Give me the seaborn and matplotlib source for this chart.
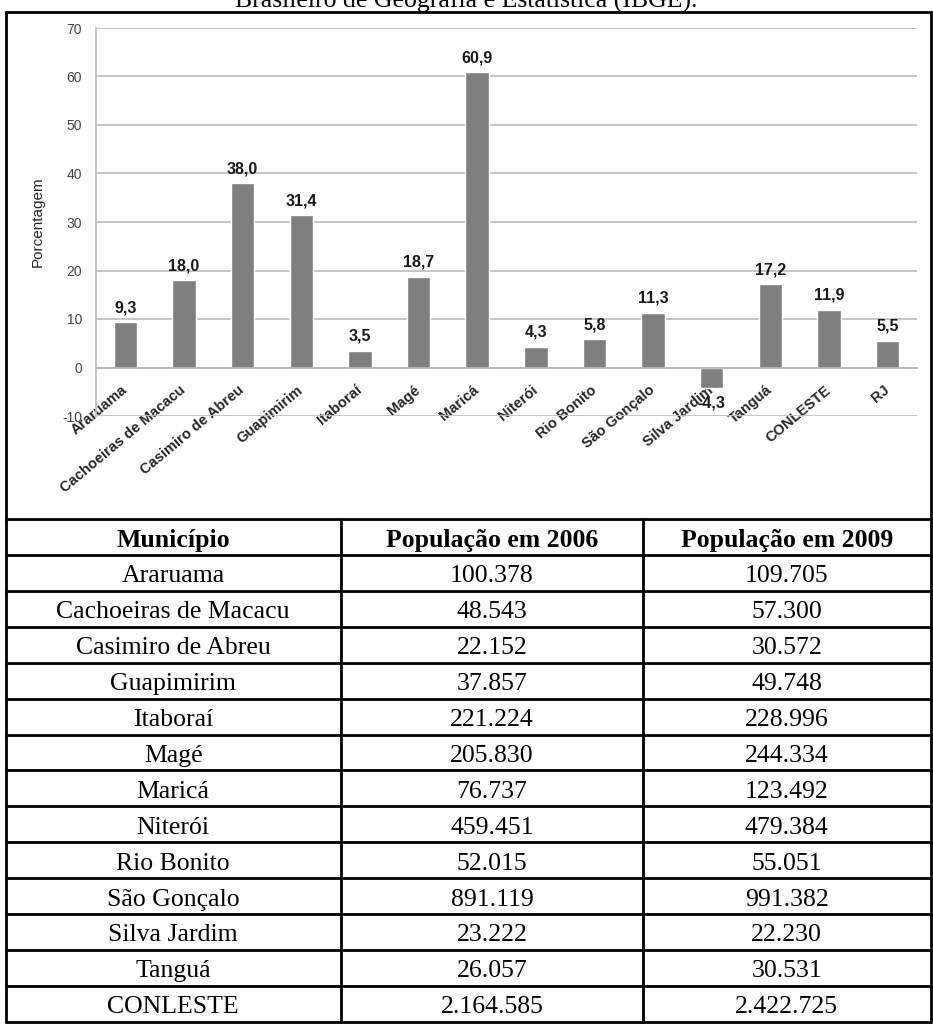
import matplotlib
matplotlib.use("Agg")
import matplotlib.pyplot as plt
import numpy as np
import pandas as pd
import seaborn as sns

# Population growth 2006-2009 (%) by municipality
categorias = ["Araruama", "Cachoeiras de Macacu", "Casimiro de Abreu", "Guapimirim",
              "Itaboraí", "Magé", "Maricá", "Niterói", "Rio Bonito", "São Gonçalo",
              "Silva Jardim", "Tanguá", "CONLESTE", "RJ"]
variacao = [9.3, 18.0, 38.0, 31.4, 3.5, 18.7, 60.9, 4.3, 5.8, 11.3, -4.3, 17.2, 11.9, 5.5]
y_ticks = [-10, 0, 10, 20, 30, 40, 50, 60, 70]

# Population table
cabecalho = ["Município", "População em 2006", "População em 2009"]
municipios = ["Araruama", "Cachoeiras de Macacu", "Casimiro de Abreu", "Guapimirim",
              "Itaboraí", "Magé", "Maricá", "Niterói", "Rio Bonito", "São Gonçalo",
              "Silva Jardim", "Tanguá", "CONLESTE"]
pop_2006 = [100378, 48543, 22152, 37857, 221224, 205830, 76737, 459451, 52015,
            891119, 23222, 26057, 2164585]
pop_2009 = [109705, 57300, 30572, 49748, 228996, 244334, 123492, 479384, 55051,
            991382, 22230, 30531, 2422725]

legenda_topo = "Brasileiro de Geografia e Estatística (IBGE)."


def milhar(n):
    return f"{n:,}".replace(",", ".")


def decimal(v):
    return f"{v:.1f}".replace(".", ",")


sns.set_theme(style="white")
plt.rcParams["font.family"] = ["Liberation Sans", "DejaVu Sans"]

W, H = 933, 1025
fig = plt.figure(figsize=(W / 100, H / 100), dpi=100)
fig.patch.set_facecolor("white")

# ---- bar chart ----
ax = fig.add_axes([96 / W, 1 - 416 / H, 821 / W, 388 / H])
df = pd.DataFrame({"Município": categorias, "Variação": variacao})
sns.barplot(data=df, x="Município", y="Variação", order=categorias,
            color="#7f7f7f", saturation=1, width=0.4, errorbar=None, ax=ax)

ax.set_xlim(-0.5, len(categorias) - 0.5)
ax.set_ylim(-10, 70)
ax.set_yticks(y_ticks)
ax.set_yticklabels([str(t) for t in y_ticks])
ax.set_axisbelow(True)
ax.yaxis.grid(True, color="#c0c0c0", lw=1.3)
ax.xaxis.grid(False)
for s in ["top", "right"]:
    ax.spines[s].set_visible(False)
ax.spines["bottom"].set_position(("data", 0))
ax.spines["bottom"].set_color("#b5b5b5")
ax.spines["bottom"].set_linewidth(1.3)
ax.spines["left"].set_color("#c0c0c0")
ax.spines["left"].set_linewidth(1.3)

ax.tick_params(axis="x", length=0, pad=15)
ax.tick_params(axis="y", length=0, pad=10, labelsize=10, labelcolor="#454545")
for lbl in ax.get_xticklabels():
    lbl.set_rotation(40)
    lbl.set_ha("right")
    lbl.set_va("center")
    lbl.set_rotation_mode("anchor")
    lbl.set_fontweight("bold")
    lbl.set_fontsize(10.5)
    lbl.set_color("#262626")

ax.set_xlabel("")
ax.set_ylabel("Porcentagem", fontsize=11, color="#262626")
ax.yaxis.set_label_coords(-0.062, 0.5)

ax.bar_label(ax.containers[0], labels=[decimal(v) for v in variacao],
             padding=5, fontsize=11.5, fontweight="bold", color="#1a1a1a")

# ---- frame and table ----
ov = fig.add_axes([0, 0, 1, 1])
ov.set_xlim(0, W)
ov.set_ylim(H, 0)
ov.axis("off")
ov.patch.set_visible(False)

serif = ["Liberation Serif", "DejaVu Serif"]
ov.text(466, 8, legenda_topo, ha="center", va="baseline", fontsize=18.5,
        family=serif, color="black")

x_left, x_right = 5.5, 930.5
col_edges = [x_left, 341, 643, x_right]
col_centers = [(col_edges[i] + col_edges[i + 1]) / 2 for i in range(3)]
y_box_top = 12
y_head_top = 519
y_head_bot = 555
row_h = 35.9
row_edges = [y_head_bot + k * row_h for k in range(len(municipios) + 1)]
y_bottom = row_edges[-1]

lw = 2.0
ov.plot([x_left, x_right], [y_box_top, y_box_top], color="black", lw=lw)
ov.plot([x_left, x_left], [y_box_top, y_bottom], color="black", lw=lw)
ov.plot([x_right, x_right], [y_box_top, y_bottom], color="black", lw=lw)
ov.plot([x_left, x_right], [y_head_top, y_head_top], color="black", lw=lw)
for y in row_edges:
    ov.plot([x_left, x_right], [y, y], color="black", lw=lw)
for x in col_edges[1:-1]:
    ov.plot([x, x], [y_head_top, y_bottom], color="black", lw=lw)

yh = (y_head_top + y_head_bot) / 2 + 9.5
for cx, txt in zip(col_centers, cabecalho):
    ov.text(cx, yh, txt, ha="center", va="baseline", fontsize=18.5,
            fontweight="bold", family=serif, color="black")

for i, (m, a, b) in enumerate(zip(municipios, pop_2006, pop_2009)):
    yc = (row_edges[i] + row_edges[i + 1]) / 2 + 9.5
    for cx, txt in zip(col_centers, [m, milhar(a), milhar(b)]):
        ov.text(cx, yc, txt, ha="center", va="baseline", fontsize=18.5,
                family=serif, color="black")

fig.savefig("out.png", dpi=100)
